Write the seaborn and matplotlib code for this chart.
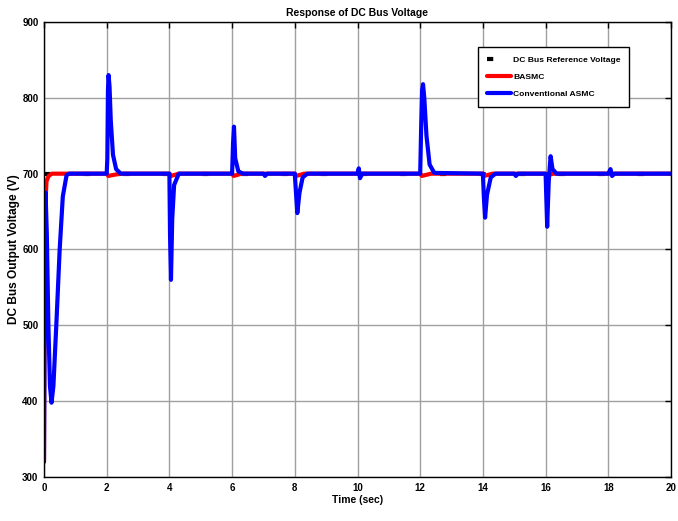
import matplotlib
matplotlib.use("Agg")
import matplotlib.pyplot as plt
import seaborn as sns
import pandas as pd

# ---- data ----
ref_t = [0.0, 20.0]
ref_v = [700, 700]

basmc_t = [0.0, 0.01, 0.03, 0.05, 0.08, 0.15, 0.25, 2.0, 2.05, 2.3, 2.5, 4.0, 4.05, 4.3,
           6.0, 6.05, 6.3, 8.0, 8.05, 8.3, 12.0, 12.05, 12.35, 14.0, 14.05, 14.3,
           16.0, 16.05, 16.25, 20.0]
basmc_v = [320, 450, 560, 665, 690, 697, 700, 700, 697, 699, 700, 700, 697, 700,
           700, 697, 700, 700, 697, 700, 700, 697, 700, 700, 697, 700,
           700, 698, 700, 700]

asmc_t = [0.0, 0.02, 0.05, 0.09, 0.14, 0.19, 0.24, 0.30, 0.40, 0.50, 0.60, 0.72, 0.80,
          2.00, 2.02, 2.04, 2.06, 2.09, 2.13, 2.20, 2.30, 2.45,
          4.00, 4.02, 4.05, 4.09, 4.15, 4.30,
          6.00, 6.03, 6.06, 6.10, 6.20, 6.35,
          7.00, 7.05, 7.12,
          8.00, 8.03, 8.08, 8.15, 8.25, 8.40,
          10.00, 10.04, 10.08, 10.15,
          12.00, 12.03, 12.06, 12.09, 12.13, 12.20, 12.30, 12.45,
          14.00, 14.03, 14.07, 14.13, 14.25, 14.40,
          15.00, 15.05, 15.12,
          16.00, 16.05, 16.10, 16.16, 16.22, 16.35,
          18.00, 18.07, 18.12, 18.20,
          20.00]
asmc_v = [320, 500, 675, 620, 500, 420, 398, 420, 507, 600, 670, 698, 700,
          700, 720, 810, 830, 815, 770, 725, 706, 700,
          700, 620, 560, 640, 685, 700,
          700, 740, 762, 720, 703, 700,
          700, 697, 700,
          700, 680, 648, 675, 695, 700,
          700, 707, 694, 700,
          700, 760, 810, 818, 800, 750, 712, 701,
          700, 670, 642, 672, 695, 700,
          700, 697, 700,
          700, 630, 690, 723, 706, 700,
          700, 706, 697, 700,
          700]

x_ticks = list(range(0, 21, 2))
y_ticks = list(range(300, 901, 100))

labels = ["DC Bus Reference Voltage", "BASMC", "Conventional ASMC"]
colors = ["black", "red", "blue"]

# ---- style ----
sns.set_style("whitegrid")
plt.rcParams["font.family"] = ["Liberation Sans", "DejaVu Sans"]
plt.rcParams["font.weight"] = "bold"
plt.rcParams["text.color"] = "black"
plt.rcParams["axes.labelcolor"] = "black"
plt.rcParams["xtick.color"] = "black"
plt.rcParams["ytick.color"] = "black"

fig = plt.figure(figsize=(6.78, 5.21), dpi=100)
ax = fig.add_axes([44 / 678, 1 - 477 / 521, 627 / 678, 455 / 521])

ref_df = pd.DataFrame({"t": ref_t, "v": ref_v})
b_df = pd.DataFrame({"t": basmc_t, "v": basmc_v})
a_df = pd.DataFrame({"t": asmc_t, "v": asmc_v})

sns.lineplot(data=ref_df, x="t", y="v", ax=ax, color=colors[0], lw=3,
             linestyle=(0, (1.5, 8)), label=labels[0], estimator=None)
sns.lineplot(data=b_df, x="t", y="v", ax=ax, color=colors[1], lw=3,
             label=labels[1], estimator=None)
sns.lineplot(data=a_df, x="t", y="v", ax=ax, color=colors[2], lw=3,
             label=labels[2], estimator=None)

ax.set_xlim(0, 20)
ax.set_ylim(300, 900)
ax.set_xticks(x_ticks)
ax.set_yticks(y_ticks)
ax.grid(True, color="#a0a0a0", lw=1.0)
for s in ax.spines.values():
    s.set_color("black")
    s.set_linewidth(1.0)
ax.tick_params(axis="both", direction="in", length=4, width=1, labelsize=7,
               top=True, right=True, colors="black", pad=4)
for lbl in ax.get_xticklabels() + ax.get_yticklabels():
    lbl.set_fontweight("bold")

ax.set_title("Response of DC Bus Voltage", fontsize=7.5, fontweight="bold", pad=4)
ax.set_xlabel("Time (sec)", fontsize=7.5, fontweight="bold", labelpad=2)
ax.set_ylabel("DC Bus Output Voltage (V)", fontsize=8.6, fontweight="bold", labelpad=1.5)

leg = ax.legend(loc="upper left", bbox_to_anchor=(0.686, 0.954),
                frameon=True, fancybox=False, edgecolor="black", framealpha=1,
                handlelength=2.8, handletextpad=0.3, borderpad=1.0,
                labelspacing=1.1, prop={"weight": "bold", "size": 6.1})
leg.get_frame().set_linewidth(1.0)
for t in leg.get_texts():
    t.set_color("black")

fig.savefig("out.png", dpi=100)
